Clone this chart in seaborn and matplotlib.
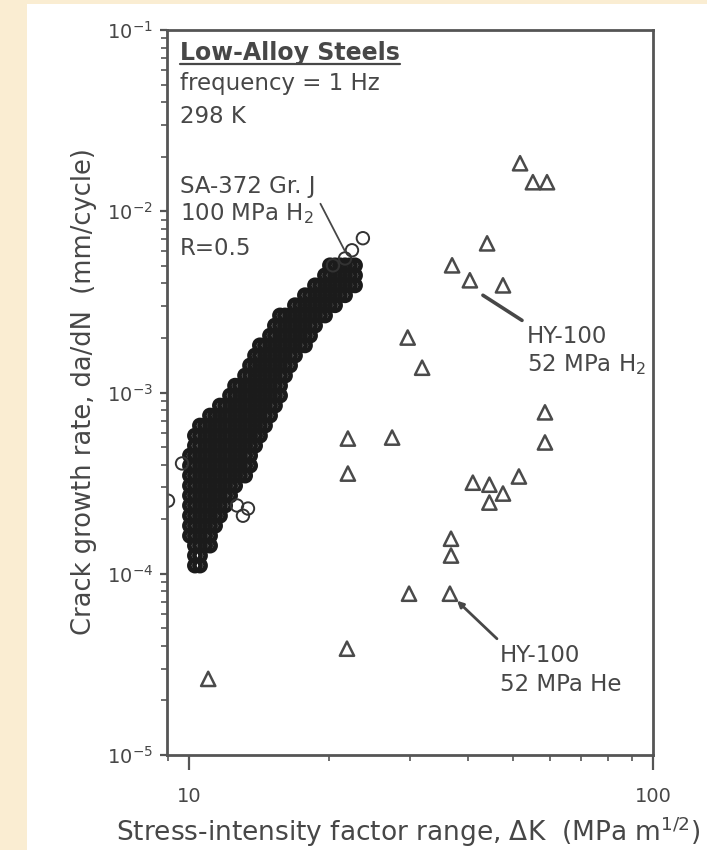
import numpy as np
import pandas as pd
import matplotlib
matplotlib.use("Agg")
import matplotlib.pyplot as plt
import seaborn as sns
from matplotlib.patches import Rectangle
from matplotlib.lines import Line2D
from matplotlib.ticker import LogLocator, NullFormatter

# ---------------- data ----------------
# SA-372 Gr. J, 100 MPa H2, R=0.5 : dense band of open circles (rows of equal da/dN)
band_dadn = [5.03e-3, 4.43e-3, 3.90e-3, 3.44e-3, 3.03e-3, 2.66e-3, 2.34e-3, 2.06e-3,
             1.82e-3, 1.60e-3, 1.41e-3, 1.24e-3, 1.09e-3, 9.62e-4, 8.47e-4, 7.46e-4,
             6.57e-4, 5.78e-4, 5.09e-4, 4.49e-4, 3.95e-4, 3.48e-4, 3.06e-4, 2.70e-4,
             2.38e-4, 2.09e-4, 1.84e-4, 1.62e-4, 1.43e-4, 1.26e-4, 1.11e-4]
band_dk = [
    [20.13, 20.64, 21.15, 21.69, 22.23, 22.79],
    [19.64, 20.13, 20.64, 21.15, 21.69, 22.23, 22.79],
    [18.69, 19.16, 19.64, 20.13, 20.64, 21.15, 21.69, 22.23, 22.79],
    [17.78, 18.23, 18.69, 19.16, 19.64, 20.13, 20.64, 21.15, 21.69],
    [16.92, 17.35, 17.78, 18.23, 18.69, 19.16, 19.64, 20.13, 20.64],
    [15.71, 16.10, 16.51, 16.92, 17.35, 17.78, 18.23, 18.69, 19.16, 19.64],
    [15.32, 15.71, 16.10, 16.51, 16.92, 17.35, 17.78, 18.23, 18.69],
    [14.95, 15.32, 15.71, 16.10, 16.51, 16.92, 17.35, 17.78, 18.23],
    [14.22, 14.58, 14.95, 15.32, 15.71, 16.10, 16.51, 16.92, 17.35, 17.78],
    [13.88, 14.22, 14.58, 14.95, 15.32, 15.71, 16.10, 16.51, 16.92],
    [13.54, 13.88, 14.22, 14.58, 14.95, 15.32, 15.71, 16.10, 16.51],
    [13.21, 13.54, 13.88, 14.22, 14.58, 14.95, 15.32, 15.71, 16.10],
    [12.57, 12.88, 13.21, 13.54, 13.88, 14.22, 14.58, 14.95, 15.32, 15.71],
    [12.26, 12.57, 12.88, 13.21, 13.54, 13.88, 14.22, 14.58, 14.95, 15.32, 15.71],
    [11.66, 11.96, 12.26, 12.57, 12.88, 13.21, 13.54, 13.88, 14.22, 14.58, 14.95, 15.32],
    [11.10, 11.38, 11.66, 11.96, 12.26, 12.57, 12.88, 13.21, 13.54, 13.88, 14.22, 14.58, 14.95],
    [10.56, 10.83, 11.10, 11.38, 11.66, 11.96, 12.26, 12.57, 12.88, 13.21, 13.54, 13.88, 14.22, 14.58],
    [10.30, 10.56, 10.83, 11.10, 11.38, 11.66, 11.96, 12.26, 12.57, 12.88, 13.21, 13.54, 13.88, 14.22],
    [10.30, 10.56, 10.83, 11.10, 11.38, 11.66, 11.96, 12.26, 12.57, 12.88, 13.21, 13.54, 13.88],
    [10.05, 10.30, 10.56, 10.83, 11.10, 11.38, 11.66, 11.96, 12.26, 12.57, 12.88, 13.21, 13.54],
    [10.05, 10.30, 10.56, 10.83, 11.10, 11.38, 11.66, 11.96, 12.26, 12.57, 12.88, 13.21, 13.54],
    [10.05, 10.30, 10.56, 10.83, 11.10, 11.38, 11.66, 11.96, 12.26, 12.57, 12.88, 13.21],
    [10.05, 10.30, 10.56, 10.83, 11.10, 11.38, 11.66, 11.96, 12.26, 12.57],
    [10.05, 10.30, 10.56, 10.83, 11.10, 11.38, 11.66, 11.96, 12.26],
    [10.05, 10.30, 10.56, 10.83, 11.10, 11.38, 11.66, 11.96],
    [10.05, 10.30, 10.56, 10.83, 11.10, 11.38, 11.66],
    [10.05, 10.30, 10.56, 10.83, 11.10, 11.38],
    [10.05, 10.30, 10.56, 10.83, 11.10],
    [10.30, 10.56, 10.83, 11.10],
    [10.30, 10.56],
    [10.30, 10.56],
]
# isolated open circles of the same data set
extra_dk = [23.7, 22.45, 21.69, 20.43, 9.01, 9.66, 12.69, 13.07, 13.4]
extra_dadn = [7.10e-3, 6.09e-3, 5.49e-3, 5.03e-3, 2.53e-4, 4.06e-4, 2.38e-4, 2.09e-4, 2.29e-4]

# HY-100 (52 MPa H2 and 52 MPa He) : open triangles
hy_dk = [51.7, 55.1, 59.1, 43.9, 36.9, 40.3, 47.5, 29.6, 31.8, 58.5, 58.5,
         22.0, 27.4, 22.0, 51.4, 40.9, 44.4, 47.5, 44.4, 36.7, 36.7,
         29.8, 36.5, 21.9, 11.0]
hy_dadn = [1.84e-2, 1.446e-2, 1.446e-2, 6.65e-3, 5.03e-3, 4.16e-3, 3.90e-3, 2.01e-3,
           1.37e-3, 7.77e-4, 5.30e-4, 5.57e-4, 5.64e-4, 3.57e-4, 3.44e-4, 3.18e-4,
           3.10e-4, 2.77e-4, 2.47e-4, 1.56e-4, 1.26e-4, 7.76e-5, 7.76e-5, 3.86e-5, 2.63e-5]

x_ticks = [10, 100]
x_ticklabels = ["10", "100"]
y_ticks = [1e-5, 1e-4, 1e-3, 1e-2, 1e-1]
y_ticklabels = [r"$10^{-5}$", r"$10^{-4}$", r"$10^{-3}$", r"$10^{-2}$", r"$10^{-1}$"]

# ---------------- styling ----------------
sns.set_style("ticks")
plt.rcParams["font.family"] = ["DejaVu Sans"]
plt.rcParams["mathtext.fontset"] = "dejavusans"

W, H = 707, 850
TXT = "#474747"
AX = "#555555"
BAND = "#1b1b1b"
TRI = "#4a4a4a"


def fp(x, y):
    return (x / W, 1 - y / H)


fig = plt.figure(figsize=(W / 100, H / 100), dpi=100)
fig.patch.set_facecolor("#FAEDD2")
fig.add_artist(Rectangle(fp(27, 850), 1 - 27 / W, (850 - 4) / H,
                         transform=fig.transFigure, fc="white", ec="none", zorder=-5))

ax = fig.add_axes([167 / W, 1 - 755 / H, (653 - 167) / W, (755 - 30) / H])
ax.set_facecolor("white")

band_df = pd.DataFrame({
    "dk": [v for row in band_dk for v in row],
    "dadn": [d for d, row in zip(band_dadn, band_dk) for _ in row],
})
extra_df = pd.DataFrame({"dk": extra_dk, "dadn": extra_dadn})
hy_df = pd.DataFrame({"dk": hy_dk, "dadn": hy_dadn})


def open_markers(coll, color, lw):
    coll.set_facecolor("none")
    coll.set_edgecolor(color)
    coll.set_linewidth(lw)


sns.scatterplot(data=band_df, x="dk", y="dadn", ax=ax, marker="o", s=64)
open_markers(ax.collections[-1], BAND, 3.4)

sns.scatterplot(data=extra_df, x="dk", y="dadn", ax=ax, marker="o", s=80)
open_markers(ax.collections[-1], "#333333", 1.4)

sns.scatterplot(data=hy_df, x="dk", y="dadn", ax=ax, marker="^", s=105)
open_markers(ax.collections[-1], TRI, 1.8)

ax.set_xscale("log")
ax.set_yscale("log")
ax.set_xlim(10 ** (1 - 22 / 464), 100)
ax.set_ylim(1e-5, 1e-1)

ax.set_xticks(x_ticks)
ax.set_xticklabels(x_ticklabels)
ax.set_yticks(y_ticks)
ax.set_yticklabels(y_ticklabels)
ax.xaxis.set_minor_locator(LogLocator(base=10, subs=np.arange(2, 10)))
ax.yaxis.set_minor_locator(LogLocator(base=10, subs=np.arange(2, 10)))
ax.xaxis.set_minor_formatter(NullFormatter())
ax.yaxis.set_minor_formatter(NullFormatter())

for s in ax.spines.values():
    s.set_visible(True)
    s.set_color(AX)
    s.set_linewidth(2.0)

ax.tick_params(axis="x", which="major", direction="out", length=11, width=1.6,
               color=AX, pad=12, labelsize=14, labelcolor=TXT)
ax.tick_params(axis="y", which="major", direction="out", length=5, width=1.6,
               color=AX, pad=5, labelsize=14, labelcolor=TXT)
ax.tick_params(which="minor", direction="out", length=4, width=1.2, color=AX)

ax.set_xlabel("Stress-intensity factor range, \u0394K  (MPa m$^{1/2}$)",
              fontsize=19, color=TXT)
ax.set_ylabel("Crack growth rate, da/dN  (mm/cycle)", fontsize=18.5, color=TXT)
ax.xaxis.set_label_coords((408 - 167) / 486, (755 - 832) / 725)
ax.xaxis.label.set_va("center")
ax.yaxis.set_label_coords((84 - 167) / 486, (755 - 392) / 725)
ax.yaxis.label.set_va("center")

# ---------------- annotations ----------------
t_title = fig.text(*fp(180, 60), "Low-Alloy Steels", fontsize=17, fontweight="bold",
                   color=TXT, va="baseline", ha="left")
fig.text(*fp(180, 90), "frequency = 1 Hz", fontsize=16.5, color=TXT, va="baseline")
fig.text(*fp(180, 123), "298 K", fontsize=16.5, color=TXT, va="baseline")
fig.text(*fp(180, 193), "SA-372 Gr. J", fontsize=16.5, color=TXT, va="baseline")
fig.text(*fp(180, 220), "100 MPa H$_2$", fontsize=16.5, color=TXT, va="baseline")
fig.text(*fp(180, 255), "R=0.5", fontsize=16.5, color=TXT, va="baseline")
fig.text(*fp(527, 343), "HY-100", fontsize=16.5, color=TXT, va="baseline")
fig.text(*fp(527, 371), "52 MPa H$_2$", fontsize=16.5, color=TXT, va="baseline")
fig.text(*fp(500, 662), "HY-100", fontsize=16.5, color=TXT, va="baseline")
fig.text(*fp(500, 691), "52 MPa He", fontsize=16.5, color=TXT, va="baseline")

ax.annotate("", xy=(21.7, 6.0e-3), xytext=(19.2, 1.1e-2),
            arrowprops=dict(arrowstyle="-", color=TXT, lw=1.3, shrinkA=0, shrinkB=0))
ax.annotate("", xy=(43.0, 3.44e-3), xytext=(52.2, 2.50e-3),
            arrowprops=dict(arrowstyle="-", color=TXT, lw=2.6, shrinkA=0, shrinkB=0))
ax.annotate("", xy=(37.8, 7.10e-5), xytext=(46.1, 4.38e-5),
            arrowprops=dict(arrowstyle="-|>", color=TXT, lw=2.0, mutation_scale=9,
                            shrinkA=0, shrinkB=0))

fig.canvas.draw()
bb = t_title.get_window_extent()
yy = 1 - 63.5 / H
fig.add_artist(Line2D([bb.x0 / W, bb.x1 / W], [yy, yy], transform=fig.transFigure,
                      color=TXT, lw=1.6))

fig.savefig("out.png", dpi=100, facecolor=fig.get_facecolor())
